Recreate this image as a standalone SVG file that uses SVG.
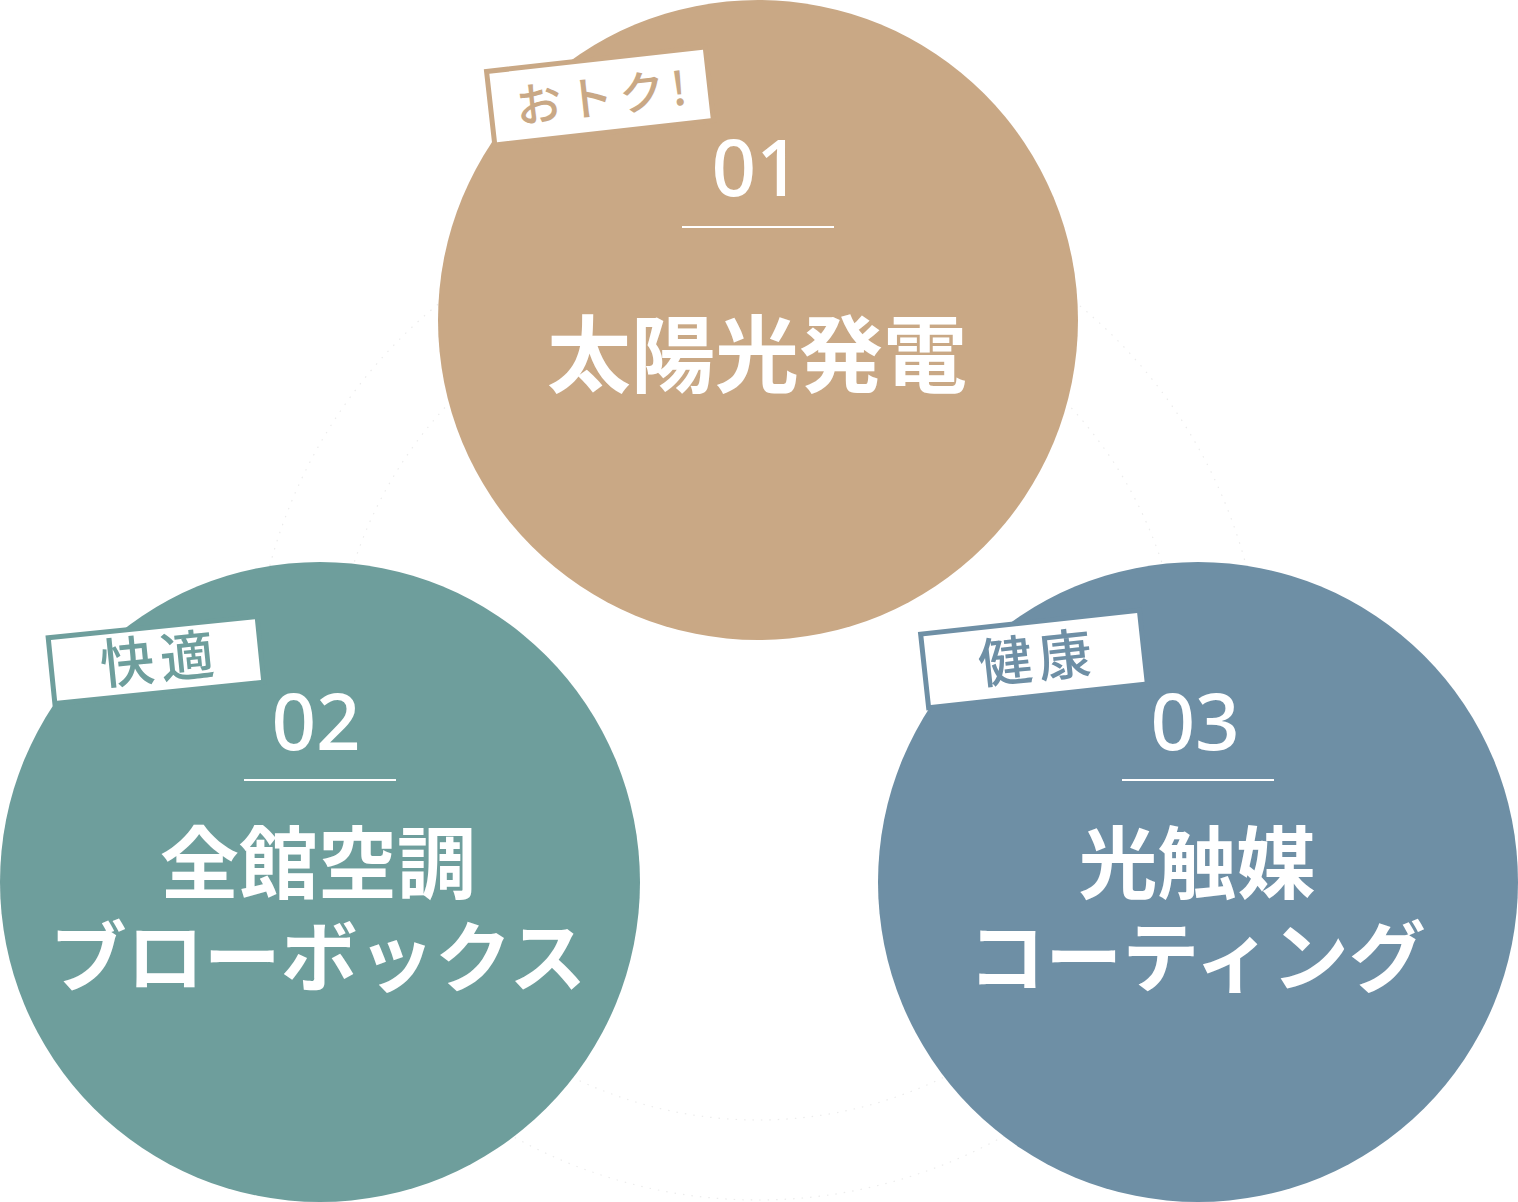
<svg xmlns="http://www.w3.org/2000/svg" width="1518" height="1202" viewBox="0 0 1518 1202">
<style>
.num{font-family:"Noto Sans","Liberation Sans",sans-serif;font-size:78px;font-weight:500;fill:#fff;text-anchor:middle}
.title{font-family:"Noto Sans CJK JP",sans-serif;font-weight:700;fill:#fff;text-anchor:middle}
.tag{font-family:"Noto Sans CJK JP",sans-serif;font-weight:500;text-anchor:middle}
.rule{stroke:#fff;stroke-width:2}
.orbit{fill:none;stroke:#ececec;stroke-width:1.2;stroke-dasharray:1.5 7}
</style>
<rect width="1518" height="1202" fill="#fff"/>
<g id="orbits">
<circle class="orbit" cx="758" cy="695" r="425"/>
<circle class="orbit" cx="758" cy="695" r="505"/>
</g>
<g id="connectors"></g>
<g id="node-01">
<circle cx="758" cy="320" r="320" fill="#c9a885"/>
<g transform="translate(600,96) rotate(-6.4)">
<rect x="-110" y="-37" width="220" height="74" fill="#fff" stroke="#c9a885" stroke-width="5"/>
<text class="tag" x="4" y="18" font-size="46" letter-spacing="6" fill="#c9a885">おトク!</text>
</g>
<text class="num" x="756" y="196">01</text>
<line class="rule" x1="682" y1="227" x2="834" y2="227"/>
<text class="title" x="757" y="386" font-size="84">太陽光発電</text>
</g>
<g id="node-02">
<circle cx="320" cy="882" r="320" fill="#6e9e9c"/>
<g transform="translate(156,660) rotate(-5.8)">
<rect x="-105" y="-33" width="210" height="66" fill="#fff" stroke="#6e9e9c" stroke-width="5"/>
<text class="tag" x="4" y="19" font-size="54" letter-spacing="6" fill="#6e9e9c">快適</text>
</g>
<text class="num" x="316" y="750">02</text>
<line class="rule" x1="244" y1="780" x2="396" y2="780"/>
<text class="title" x="318" y="893" font-size="79">全館空調</text>
<text class="title" x="318" y="986" font-size="77">ブローボックス</text>
</g>
<g id="node-03">
<circle cx="1198" cy="882" r="320" fill="#6e8fa5"/>
<g transform="translate(1034,659) rotate(-6.2)">
<rect x="-110" y="-37" width="220" height="74" fill="#fff" stroke="#6e8fa5" stroke-width="5"/>
<text class="tag" x="4" y="19" font-size="54" letter-spacing="6" fill="#6e8fa5">健康</text>
</g>
<text class="num" x="1195" y="750">03</text>
<line class="rule" x1="1122" y1="780" x2="1274" y2="780"/>
<text class="title" x="1197" y="893" font-size="79">光触媒</text>
<text class="title" x="1197" y="986" font-size="77">コーティング</text>
</g>
</svg>
